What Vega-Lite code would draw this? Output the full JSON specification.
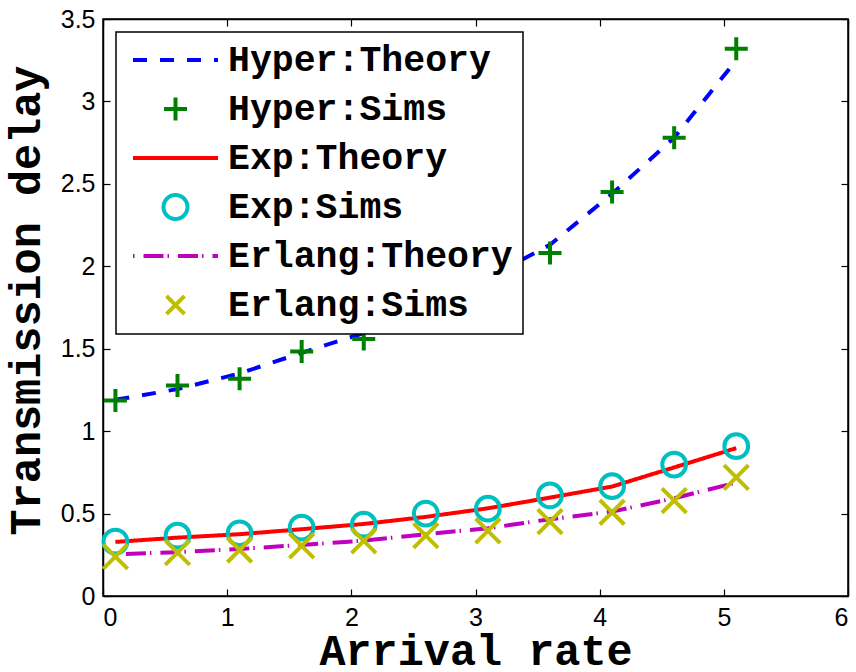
{
  "$schema": "https://vega.github.io/schema/vega-lite/v6.json",
  "width": 745,
  "height": 577,
  "autosize": "none",
  "padding": {"left": 103, "top": 19, "right": 8, "bottom": 76},
  "background": "white",
  "config": {
    "view": {"stroke": "black", "strokeWidth": 1.5},
    "axis": {
      "grid": false,
      "domainColor": "black",
      "domainWidth": 1.5,
      "tickColor": "black",
      "tickWidth": 1.2,
      "tickSize": -7,
      "labelFont": "Liberation Sans",
      "labelFontSize": 25,
      "labelColor": "black",
      "titleFont": "Liberation Mono",
      "titleFontWeight": "bold",
      "titleFontSize": 43.5,
      "titleColor": "black"
    }
  },
  "data": {
    "values": [
      {"rate": 0.1, "delay": 1.19, "series": "Hyper:Theory", "kind": "Theory"},
      {"rate": 0.6, "delay": 1.255, "series": "Hyper:Theory", "kind": "Theory"},
      {"rate": 1.1, "delay": 1.35, "series": "Hyper:Theory", "kind": "Theory"},
      {"rate": 1.6, "delay": 1.475, "series": "Hyper:Theory", "kind": "Theory"},
      {"rate": 2.1, "delay": 1.595, "series": "Hyper:Theory", "kind": "Theory"},
      {"rate": 2.6, "delay": 1.75, "series": "Hyper:Theory", "kind": "Theory"},
      {"rate": 3.1, "delay": 1.93, "series": "Hyper:Theory", "kind": "Theory"},
      {"rate": 3.6, "delay": 2.13, "series": "Hyper:Theory", "kind": "Theory"},
      {"rate": 4.1, "delay": 2.44, "series": "Hyper:Theory", "kind": "Theory"},
      {"rate": 4.6, "delay": 2.78, "series": "Hyper:Theory", "kind": "Theory"},
      {"rate": 5.1, "delay": 3.25, "series": "Hyper:Theory", "kind": "Theory"},

      {"rate": 0.1, "delay": 1.186, "series": "Hyper:Sims", "kind": "Sims"},
      {"rate": 0.6, "delay": 1.277, "series": "Hyper:Sims", "kind": "Sims"},
      {"rate": 1.1, "delay": 1.318, "series": "Hyper:Sims", "kind": "Sims"},
      {"rate": 1.6, "delay": 1.483, "series": "Hyper:Sims", "kind": "Sims"},
      {"rate": 2.1, "delay": 1.559, "series": "Hyper:Sims", "kind": "Sims"},
      {"rate": 2.6, "delay": 1.74, "series": "Hyper:Sims", "kind": "Sims"},
      {"rate": 3.1, "delay": 1.95, "series": "Hyper:Sims", "kind": "Sims"},
      {"rate": 3.6, "delay": 2.08, "series": "Hyper:Sims", "kind": "Sims"},
      {"rate": 4.1, "delay": 2.45, "series": "Hyper:Sims", "kind": "Sims"},
      {"rate": 4.6, "delay": 2.78, "series": "Hyper:Sims", "kind": "Sims"},
      {"rate": 5.1, "delay": 3.32, "series": "Hyper:Sims", "kind": "Sims"},

      {"rate": 0.1, "delay": 0.328, "series": "Exp:Theory", "kind": "Theory"},
      {"rate": 0.6, "delay": 0.354, "series": "Exp:Theory", "kind": "Theory"},
      {"rate": 1.1, "delay": 0.375, "series": "Exp:Theory", "kind": "Theory"},
      {"rate": 1.6, "delay": 0.405, "series": "Exp:Theory", "kind": "Theory"},
      {"rate": 2.1, "delay": 0.437, "series": "Exp:Theory", "kind": "Theory"},
      {"rate": 2.6, "delay": 0.48, "series": "Exp:Theory", "kind": "Theory"},
      {"rate": 3.1, "delay": 0.532, "series": "Exp:Theory", "kind": "Theory"},
      {"rate": 3.6, "delay": 0.597, "series": "Exp:Theory", "kind": "Theory"},
      {"rate": 4.1, "delay": 0.664, "series": "Exp:Theory", "kind": "Theory"},
      {"rate": 4.6, "delay": 0.78, "series": "Exp:Theory", "kind": "Theory"},
      {"rate": 5.1, "delay": 0.897, "series": "Exp:Theory", "kind": "Theory"},

      {"rate": 0.1, "delay": 0.33, "series": "Exp:Sims", "kind": "Sims"},
      {"rate": 0.6, "delay": 0.366, "series": "Exp:Sims", "kind": "Sims"},
      {"rate": 1.1, "delay": 0.38, "series": "Exp:Sims", "kind": "Sims"},
      {"rate": 1.6, "delay": 0.415, "series": "Exp:Sims", "kind": "Sims"},
      {"rate": 2.1, "delay": 0.433, "series": "Exp:Sims", "kind": "Sims"},
      {"rate": 2.6, "delay": 0.5, "series": "Exp:Sims", "kind": "Sims"},
      {"rate": 3.1, "delay": 0.53, "series": "Exp:Sims", "kind": "Sims"},
      {"rate": 3.6, "delay": 0.61, "series": "Exp:Sims", "kind": "Sims"},
      {"rate": 4.1, "delay": 0.666, "series": "Exp:Sims", "kind": "Sims"},
      {"rate": 4.6, "delay": 0.797, "series": "Exp:Sims", "kind": "Sims"},
      {"rate": 5.1, "delay": 0.909, "series": "Exp:Sims", "kind": "Sims"},

      {"rate": 0.1, "delay": 0.253, "series": "Erlang:Theory", "kind": "Theory"},
      {"rate": 0.6, "delay": 0.266, "series": "Erlang:Theory", "kind": "Theory"},
      {"rate": 1.1, "delay": 0.285, "series": "Erlang:Theory", "kind": "Theory"},
      {"rate": 1.6, "delay": 0.31, "series": "Erlang:Theory", "kind": "Theory"},
      {"rate": 2.1, "delay": 0.336, "series": "Erlang:Theory", "kind": "Theory"},
      {"rate": 2.6, "delay": 0.375, "series": "Erlang:Theory", "kind": "Theory"},
      {"rate": 3.1, "delay": 0.411, "series": "Erlang:Theory", "kind": "Theory"},
      {"rate": 3.6, "delay": 0.466, "series": "Erlang:Theory", "kind": "Theory"},
      {"rate": 4.1, "delay": 0.512, "series": "Erlang:Theory", "kind": "Theory"},
      {"rate": 4.6, "delay": 0.593, "series": "Erlang:Theory", "kind": "Theory"},
      {"rate": 5.1, "delay": 0.688, "series": "Erlang:Theory", "kind": "Theory"},

      {"rate": 0.1, "delay": 0.239, "series": "Erlang:Sims", "kind": "Sims"},
      {"rate": 0.6, "delay": 0.263, "series": "Erlang:Sims", "kind": "Sims"},
      {"rate": 1.1, "delay": 0.279, "series": "Erlang:Sims", "kind": "Sims"},
      {"rate": 1.6, "delay": 0.304, "series": "Erlang:Sims", "kind": "Sims"},
      {"rate": 2.1, "delay": 0.334, "series": "Erlang:Sims", "kind": "Sims"},
      {"rate": 2.6, "delay": 0.366, "series": "Erlang:Sims", "kind": "Sims"},
      {"rate": 3.1, "delay": 0.395, "series": "Erlang:Sims", "kind": "Sims"},
      {"rate": 3.6, "delay": 0.451, "series": "Erlang:Sims", "kind": "Sims"},
      {"rate": 4.1, "delay": 0.508, "series": "Erlang:Sims", "kind": "Sims"},
      {"rate": 4.6, "delay": 0.579, "series": "Erlang:Sims", "kind": "Sims"},
      {"rate": 5.1, "delay": 0.72, "series": "Erlang:Sims", "kind": "Sims"}
    ]
  },
  "resolve": {"axis": {"x": "independent", "y": "independent"}},
  "layer": [
    {
      "transform": [{"filter": "datum.kind === 'Theory'"}],
      "mark": {"type": "line", "strokeWidth": 4, "strokeCap": "butt"},
      "encoding": {
        "x": {
          "field": "rate", "type": "quantitative",
          "scale": {"domain": [0, 6], "nice": false, "zero": false},
          "axis": {
            "orient": "bottom", "values": [0, 1, 2, 3, 4, 5, 6], "format": "~g",
            "labelPadding": 16, "title": "Arrival rate",
            "titleY": 68, "titleBaseline": "alphabetic"
          }
        },
        "y": {
          "field": "delay", "type": "quantitative",
          "scale": {"domain": [0, 3.5], "nice": false, "zero": false},
          "axis": {
            "orient": "left", "values": [0, 0.5, 1, 1.5, 2, 2.5, 3, 3.5], "format": "~g",
            "labelPadding": 15, "title": "Transmission delay",
            "titleX": -64, "titleY": 281, "titleAngle": 270, "titleBaseline": "alphabetic"
          }
        },
        "color": {
          "field": "series", "type": "nominal",
          "scale": {
            "domain": ["Hyper:Theory", "Hyper:Sims", "Exp:Theory", "Exp:Sims", "Erlang:Theory", "Erlang:Sims"],
            "range": ["#0000FF", "#008000", "#FF0000", "#00BFBF", "#BF00BF", "#BFBF00"]
          },
          "legend": {
            "title": null,
            "orient": "top-left",
            "offset": 13,
            "fillColor": "white",
            "strokeColor": "black",
            "padding": 10,
            "labelFont": "Liberation Mono",
            "labelFontWeight": "bold",
            "labelFontSize": 36.5,
            "labelColor": "black",
            "labelLimit": 500,
            "labelOffset": 8,
            "symbolOffset": 5,
            "rowPadding": 12,
            "clipHeight": 36,
            "symbolSize": 7225,
            "symbolStrokeWidth": 4,
            "encode": {
              "symbols": {
                "update": {
                  "shape": {"signal": "indexof(datum.value, 'Theory') >= 0 ? 'M-1,0L1,0' : datum.value === 'Hyper:Sims' ? 'M-0.27,0L0.27,0M0,-0.27L0,0.27' : datum.value === 'Exp:Sims' ? 'M0.282,0A0.282,0.282,0,1,1,-0.282,0A0.282,0.282,0,1,1,0.282,0Z' : 'M-0.212,-0.212L0.212,0.212M-0.212,0.212L0.212,-0.212'"},
                  "strokeDash": {"signal": "datum.value === 'Hyper:Theory' ? [14, 13] : datum.value === 'Erlang:Theory' ? [1.5, 9, 20, 4] : [1, 0]"},
                  "fill": {"value": "transparent"}
                }
              },
              "legend": {"update": {"strokeWidth": {"value": 1.5}}}
            }
          }
        },
        "strokeDash": {
          "field": "series", "type": "nominal",
          "scale": {
            "domain": ["Hyper:Theory", "Exp:Theory", "Erlang:Theory"],
            "range": [[14, 13], [1, 0], [1.5, 9, 20, 4]]
          },
          "legend": null
        }
      }
    },
    {
      "transform": [{"filter": "datum.kind === 'Sims'"}],
      "mark": {"type": "point", "filled": false, "strokeWidth": 4, "opacity": 1},
      "encoding": {
        "x": {
          "field": "rate", "type": "quantitative",
          "axis": {"orient": "top", "values": [0, 1, 2, 3, 4, 5, 6], "labels": false, "title": null}
        },
        "y": {
          "field": "delay", "type": "quantitative",
          "axis": {"orient": "right", "values": [0, 0.5, 1, 1.5, 2, 2.5, 3, 3.5], "labels": false, "title": null}
        },
        "color": {"field": "series", "type": "nominal"},
        "shape": {
          "field": "series", "type": "nominal",
          "scale": {
            "domain": ["Hyper:Sims", "Exp:Sims", "Erlang:Sims"],
            "range": ["M-1,0L1,0M0,-1L0,1", "circle", "M-1,-1L1,1M-1,1L1,-1"]
          },
          "legend": null
        },
        "size": {
          "field": "series", "type": "nominal",
          "scale": {
            "domain": ["Hyper:Sims", "Exp:Sims", "Erlang:Sims"],
            "range": [529, 600, 340]
          },
          "legend": null
        }
      }
    }
  ]
}
